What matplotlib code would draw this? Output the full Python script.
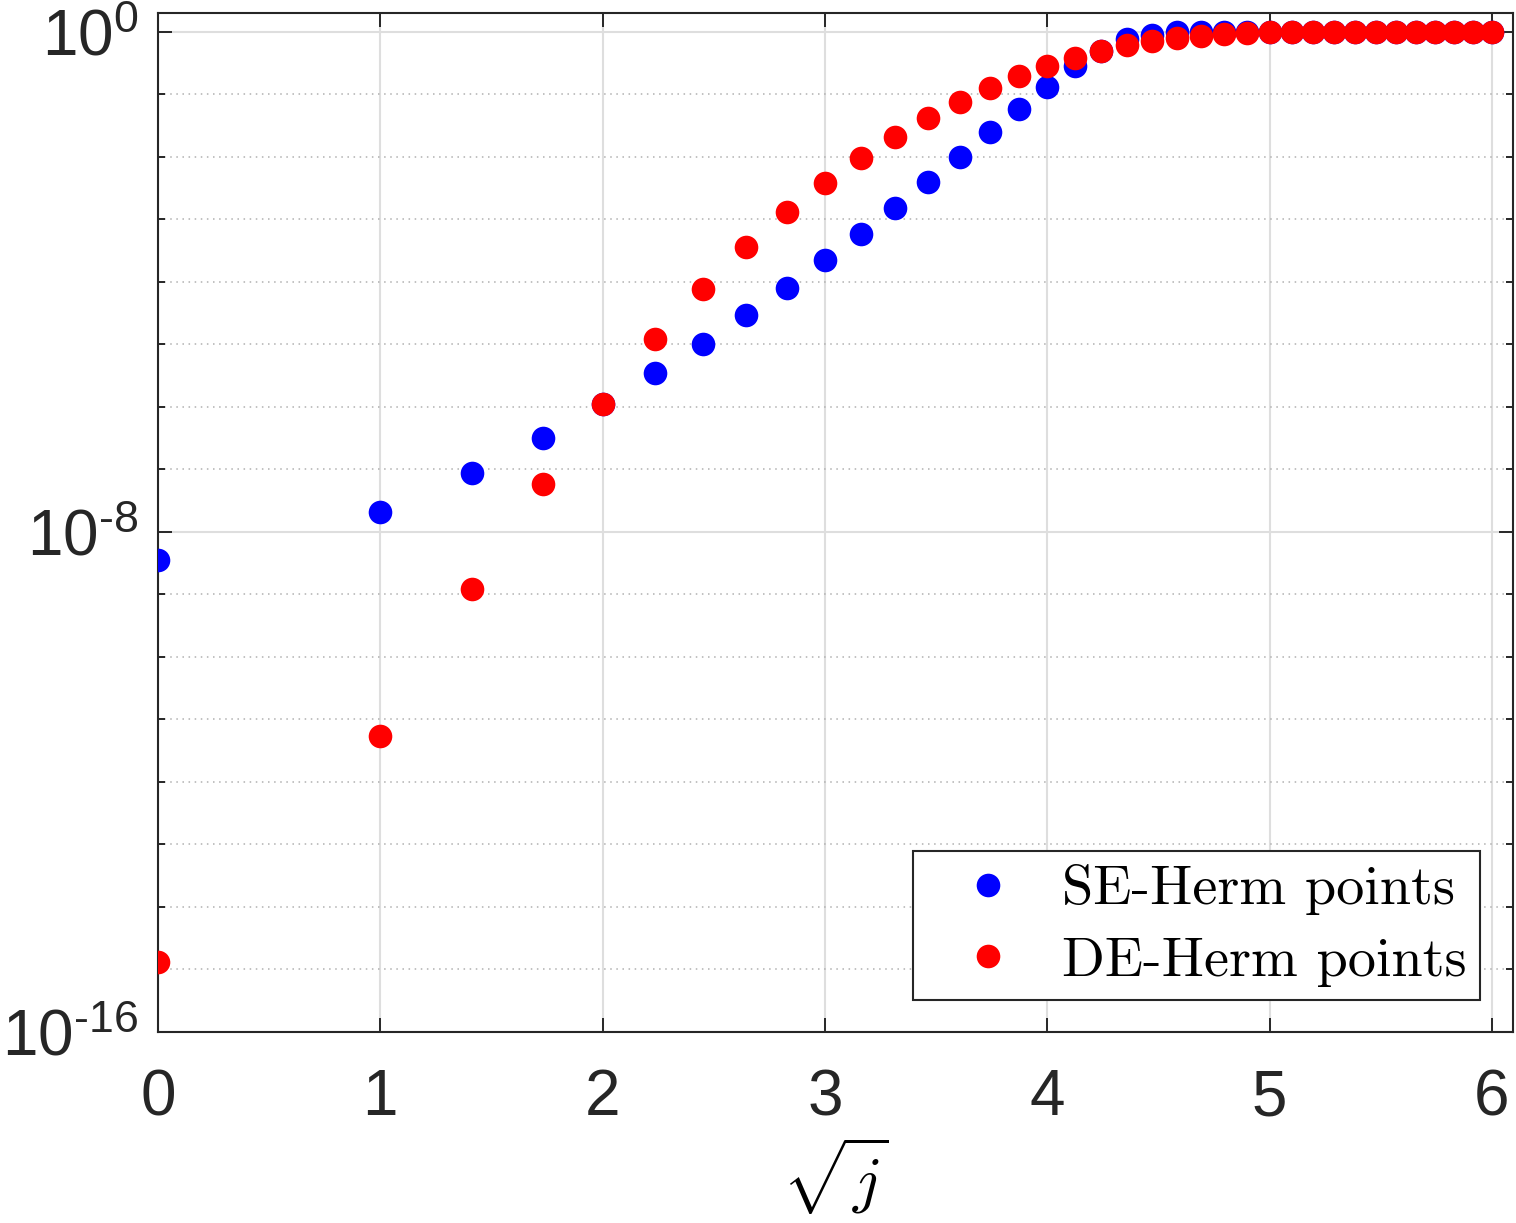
import numpy as np
import matplotlib
matplotlib.use("Agg")
import matplotlib.pyplot as plt
from matplotlib.ticker import FixedLocator, LogLocator, NullFormatter

# index j, plotted against sqrt(j)
j_idx = np.arange(37)

# SE-Herm points
se_vals = [3.6e-9, 2.1e-8, 8.9e-8, 3.2e-7, 1.1e-6, 3.5e-6, 1.0e-5, 2.9e-5, 8.1e-5,
           2.2e-4, 5.9e-4, 1.5e-3, 3.9e-3, 9.9e-3, 2.5e-2, 5.9e-2, 0.133, 0.279,
           0.50, 0.764, 0.895, 0.975, 0.99, 1.0, 1.0, 1.0, 1.0, 1.0, 1.0, 1.0,
           1.0, 1.0, 1.0, 1.0, 1.0, 1.0, 1.0]
# DE-Herm points
de_vals = [1.3e-15, 5.5e-12, 1.2e-9, 5.9e-8, 1.1e-6, 1.2e-5, 7.6e-5, 3.6e-4, 1.3e-3,
           3.8e-3, 9.5e-3, 2.1e-2, 4.2e-2, 7.5e-2, 0.126, 0.193, 0.279, 0.38,
           0.50, 0.62, 0.70, 0.79, 0.87, 0.918, 0.955, 0.977, 0.99, 0.995, 1.0, 1.0,
           1.0, 1.0, 1.0, 1.0, 1.0, 1.0, 1.0]

ytick_vals = [1e-16, 1e-8, 1e0]
ytick_labels = [r'$10^{\text{-}16}$', r'$10^{\text{-}8}$', r'$10^{0}$']

x = np.sqrt(j_idx)

plt.rcParams['font.family'] = ['Liberation Sans', 'DejaVu Sans']
plt.rcParams['mathtext.fontset'] = 'custom'
plt.rcParams['mathtext.rm'] = 'Liberation Sans'
plt.rcParams['mathtext.it'] = 'Liberation Sans:italic'
plt.rcParams['mathtext.bf'] = 'Liberation Sans:bold'

fig = plt.figure(figsize=(15.16, 12.23), dpi=100)
ax = fig.add_axes([0.1042, 0.1562, 0.8938, 0.8332])

ax.plot(x, se_vals, 'o', color='#0000ff', markersize=17, markeredgewidth=0, label='SE-Herm points', zorder=3)
ax.plot(x, de_vals, 'o', color='#ff0000', markersize=17, markeredgewidth=0, label='DE-Herm points', zorder=4)

ax.set_yscale('log')
ax.set_xlim(0, 6.095)
ax.set_ylim(1e-16, 2.0)

ax.set_xticks([0, 1, 2, 3, 4, 5, 6])
ax.yaxis.set_major_locator(FixedLocator(ytick_vals))
ax.yaxis.set_minor_locator(LogLocator(base=10, subs=(1.0,), numticks=40))
ax.yaxis.set_minor_formatter(NullFormatter())
ax.set_yticklabels(ytick_labels)

ax.grid(True, which='major', color='#dedede', linewidth=1.5, linestyle='-')
ax.grid(True, which='minor', axis='y', color='#b0b0b0', linewidth=1.1, linestyle=(0, (1, 3)))
ax.set_axisbelow(True)

ax.tick_params(which='both', direction='in', top=True, right=True, colors='#262626',
               width=1.4, labelsize=46)
ax.tick_params(which='major', length=10)
ax.tick_params(which='minor', length=5)
ax.tick_params(axis='x', pad=26)
ax.tick_params(axis='y', pad=14)
for s in ax.spines.values():
    s.set_color('#262626')
    s.set_linewidth(1.5)

xl = ax.set_xlabel(r'$\sqrt{j}$', fontsize=46, labelpad=5)
xl.set_math_fontfamily('cm')

leg = ax.legend(loc='lower right', bbox_to_anchor=(0.9756, 0.0314), borderaxespad=0,
                prop={'family': 'cmr10', 'size': 40.5}, fancybox=False, framealpha=1,
                edgecolor='#262626', handlelength=2.2, handletextpad=0.22, borderpad=0.23,
                labelspacing=0.38, numpoints=1)
leg.get_frame().set_linewidth(1.5)

fig.savefig('out.png', dpi=100)
